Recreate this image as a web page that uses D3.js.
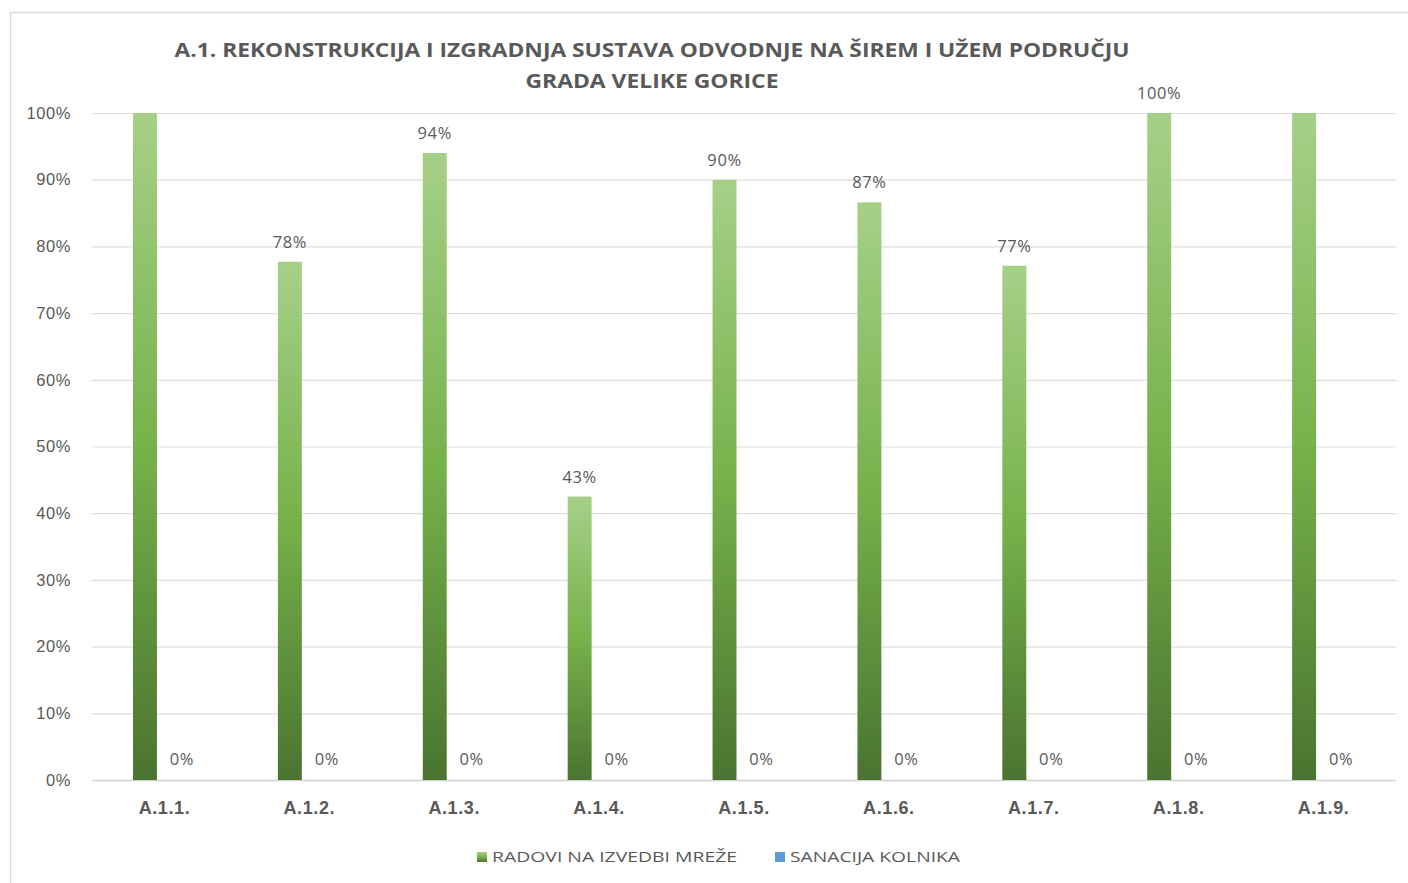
<!DOCTYPE html>
<html>
<head>
<meta charset="utf-8">
<script src="https://cdn.jsdelivr.net/npm/d3@7"></script>
<style>
  body { margin: 0; background: #fff; }
  svg { display: block; font-family: "Open Sans", "Liberation Sans", sans-serif; }
</style>
</head>
<body>
<div id="svgcontainer"></div>
<script>
// chart data
const categories = ["A.1.1.", "A.1.2.", "A.1.3.", "A.1.4.", "A.1.5.", "A.1.6.", "A.1.7.", "A.1.8.", "A.1.9."]
const radovi = [100, 77.7, 94, 42.5, 90, 86.6, 77.1, 100, 100]
// data labels shown above the green bars (hidden ones are null)
const radovi_labels = [null, "78%", "94%", "43%", "90%", "87%", "77%", "100%", null]
const sanacija = [0, 0, 0, 0, 0, 0, 0, 0, 0]
const series_names = ["RADOVI NA IZVEDBI MREŽE", "SANACIJA KOLNIKA"]
const y_ticks = [0, 10, 20, 30, 40, 50, 60, 70, 80, 90, 100]
const title_lines = ["A.1. REKONSTRUKCIJA I IZGRADNJA SUSTAVA ODVODNJE NA ŠIREM I UŽEM PODRUČJU", "GRADA VELIKE GORICE"]

const svg_width = 1408, svg_height = 883
const plot = { left: 92, right: 1396, top: 113, bottom: 780 }
const text_color = "#595959"

let svg = d3.select("#svgcontainer")
    .append("svg")
    .attr("width", svg_width)
    .attr("height", svg_height)

// gradient for the green series
let defs = svg.append("defs")
let grad = defs.append("linearGradient")
    .attr("id", "greenGrad")
    .attr("x1", 0).attr("y1", 0).attr("x2", 0).attr("y2", 1)
grad.append("stop").attr("offset", "0%").attr("stop-color", "#a6d088")
grad.append("stop").attr("offset", "50%").attr("stop-color", "#76b24a")
grad.append("stop").attr("offset", "100%").attr("stop-color", "#4a7430")

// chart border (only top and left edges are in view)
svg.append("rect")
    .attr("x", 10.5).attr("y", 12.5)
    .attr("width", 1420).attr("height", 890)
    .attr("fill", "none")
    .attr("stroke", "#d9d9d9")
    .attr("stroke-width", 1.5)

// scales
let xScale = d3.scaleBand().domain(categories).range([plot.left, plot.right]).padding(0)
let xInner = d3.scaleBand().domain([0, 1])
    .range([xScale.bandwidth() * 0.283, xScale.bandwidth() * 0.717])
    .paddingInner(0.385).paddingOuter(0)
let yScale = d3.scaleLinear().domain([0, 100]).range([plot.bottom, plot.top])

// gridlines + y labels
let yAxis = d3.axisLeft(yScale)
    .tickValues(y_ticks)
    .tickSize(-(plot.right - plot.left))
    .tickPadding(21)
    .tickFormat(d => d + "%")

let yg = svg.append("g")
    .attr("transform", "translate(" + plot.left + ",0)")
    .call(yAxis)
yg.select(".domain").remove()
yg.selectAll(".tick line")
    .attr("stroke", d => d === 0 ? "#d0d0d0" : "#dedede")
    .attr("stroke-width", d => d === 0 ? 1.5 : 1.2)
yg.selectAll(".tick text")
    .attr("fill", text_color)
    .style("font-size", "16.5px")
    .style("letter-spacing", "0.6px")

// x axis labels
let xAxis = d3.axisBottom(xScale).tickSize(0).tickPadding(21)
let xg = svg.append("g")
    .attr("transform", "translate(0," + plot.bottom + ")")
    .call(xAxis)
xg.select(".domain").remove()
xg.selectAll(".tick text")
    .attr("fill", text_color)
    .style("font-size", "18px")
    .style("font-weight", "bold")
    .style("letter-spacing", "0.6px")

// bars
let groups = svg.append("g").selectAll("g")
    .data(categories)
    .join("g")
    .attr("transform", d => "translate(" + xScale(d) + ",0)")

groups.append("rect")
    .attr("x", xInner(0))
    .attr("width", xInner.bandwidth())
    .attr("y", (d, i) => yScale(radovi[i]))
    .attr("height", (d, i) => yScale(0) - yScale(radovi[i]))
    .attr("fill", "url(#greenGrad)")

groups.append("rect")
    .attr("x", xInner(1))
    .attr("width", xInner.bandwidth())
    .attr("y", (d, i) => yScale(sanacija[i]))
    .attr("height", (d, i) => yScale(0) - yScale(sanacija[i]))
    .attr("fill", "#5b9bd5")

// data labels
groups.filter((d, i) => radovi_labels[i] !== null)
    .append("text")
    .attr("x", xInner(0) + xInner.bandwidth() / 2)
    .attr("y", d => yScale(radovi[categories.indexOf(d)]) - 14)
    .attr("text-anchor", "middle")
    .attr("fill", text_color)
    .style("font-size", "16.5px")
    .style("letter-spacing", "0.6px")
    .text(d => radovi_labels[categories.indexOf(d)])

groups.append("text")
    .attr("x", xInner(1) + xInner.bandwidth() / 2 - 2)
    .attr("y", (d, i) => yScale(sanacija[i]) - 15)
    .attr("text-anchor", "middle")
    .attr("fill", text_color)
    .style("font-size", "16.5px")
    .style("letter-spacing", "0.6px")
    .text((d, i) => sanacija[i] + "%")

// title
svg.append("text")
    .attr("x", 652).attr("y", 57)
    .attr("text-anchor", "middle")
    .attr("fill", text_color)
    .style("font-size", "19px")
    .style("font-weight", "bold")
    .attr("textLength", 955)
    .attr("lengthAdjust", "spacingAndGlyphs")
    .text(title_lines[0])
svg.append("text")
    .attr("x", 652).attr("y", 88)
    .attr("text-anchor", "middle")
    .attr("fill", text_color)
    .style("font-size", "19px")
    .style("font-weight", "bold")
    .attr("textLength", 253)
    .attr("lengthAdjust", "spacingAndGlyphs")
    .text(title_lines[1])

// legend
const legend_items = [
    { name: series_names[0], fill: "url(#greenGrad)", x: 477, w: 245 },
    { name: series_names[1], fill: "#5b9bd5", x: 775, w: 170 }
]
let lg = svg.append("g").selectAll("g")
    .data(legend_items)
    .join("g")
    .attr("transform", d => "translate(" + d.x + ",852)")
lg.append("rect")
    .attr("width", 10).attr("height", 10)
    .attr("fill", d => d.fill)
lg.append("text")
    .attr("x", 15).attr("y", 10)
    .attr("fill", text_color)
    .style("font-size", "15px")
    .attr("textLength", d => d.w)
    .attr("lengthAdjust", "spacingAndGlyphs")
    .text(d => d.name)
</script>
</body>
</html>
